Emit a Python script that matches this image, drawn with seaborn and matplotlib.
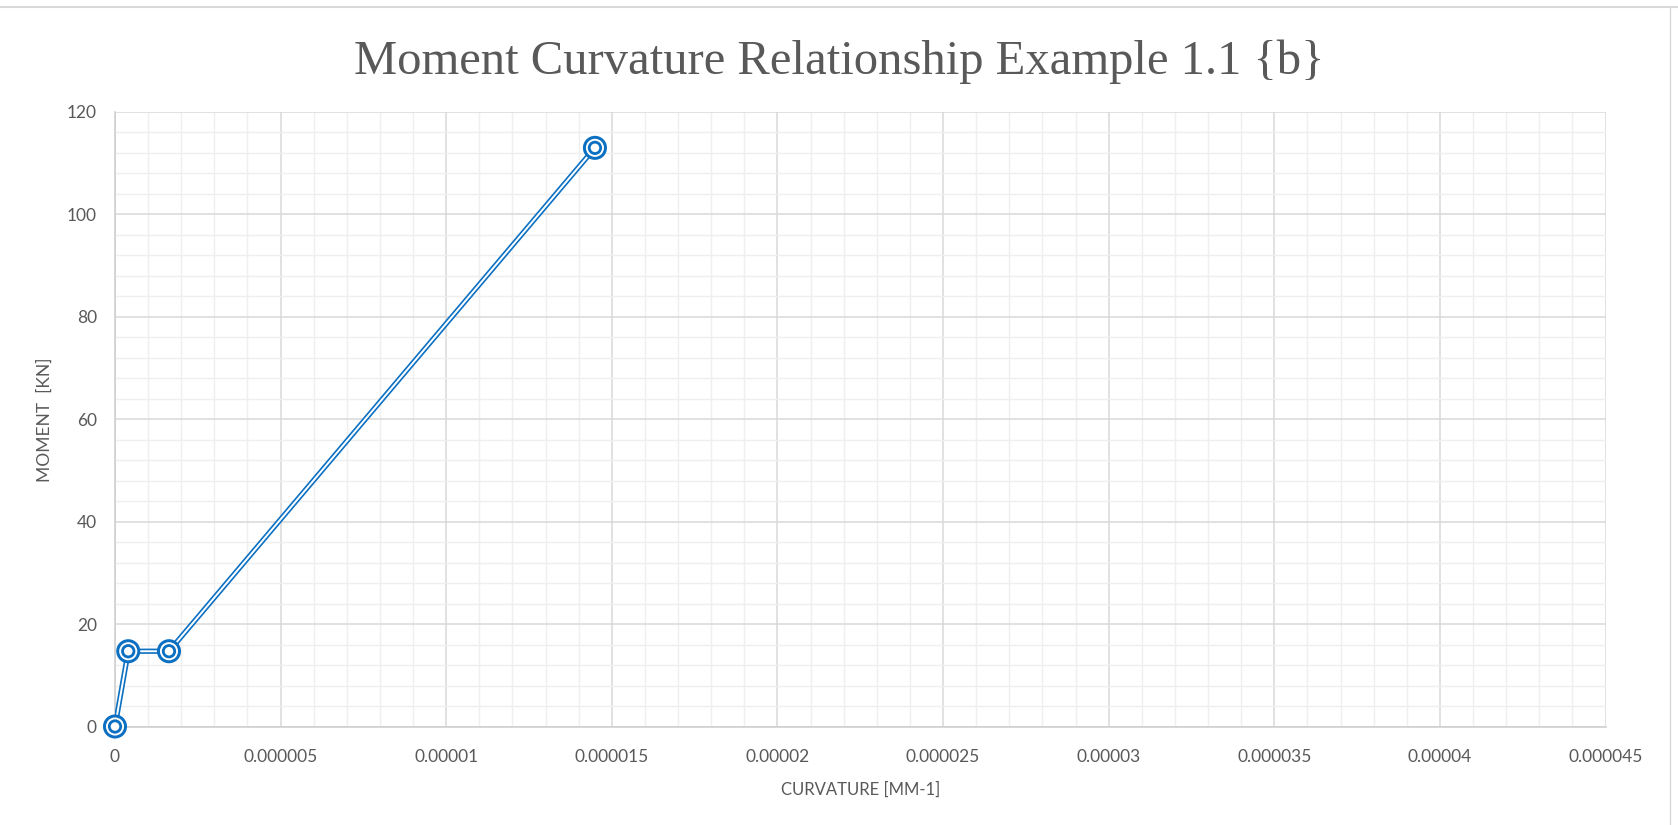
import matplotlib
matplotlib.use("Agg")
import matplotlib.pyplot as plt
from matplotlib.lines import Line2D
from matplotlib.ticker import FixedLocator, MultipleLocator
import seaborn as sns
import pandas as pd

# ---- data ----
curvature = [0.0, 4.0e-7, 1.63e-6, 1.449e-5]
moment = [0.0, 14.7, 14.7, 113.0]
x_ticks = [0, 0.000005, 0.00001, 0.000015, 0.00002, 0.000025, 0.00003, 0.000035, 0.00004, 0.000045]
x_tick_labels = ["0", "0.000005", "0.00001", "0.000015", "0.00002", "0.000025",
                 "0.00003", "0.000035", "0.00004", "0.000045"]
y_ticks = [0, 20, 40, 60, 80, 100, 120]
y_tick_labels = ["0", "20", "40", "60", "80", "100", "120"]
title = "Moment Curvature Relationship Example 1.1 {b}"
x_label = "CURVATURE [MM-1]"
y_label = "MOMENT  [KN]"

df = pd.DataFrame({"curvature": curvature, "moment": moment})

sns.set_theme(style="white")
plt.rcParams["font.family"] = ["Lato", "DejaVu Sans"]

BLUE = "#0B70C2"
TXT = "#595959"

fig = plt.figure(figsize=(16.78, 8.25), dpi=100)
ax = fig.add_axes([115 / 1678, 1 - 726.5 / 825, (1605.5 - 115) / 1678, (726.5 - 112) / 825])

# double line
sns.lineplot(data=df, x="curvature", y="moment", sort=False, color=BLUE, lw=3.8, ax=ax, zorder=3)
sns.lineplot(data=df, x="curvature", y="moment", sort=False, color="white", lw=1.4, ax=ax, zorder=4)
# double-ring markers
for s, c in [(300, BLUE), (170, "white"), (105, BLUE), (38, "white")]:
    sns.scatterplot(data=df, x="curvature", y="moment", s=s, color=c, edgecolor="none",
                    ax=ax, zorder=5, clip_on=False)

ax.set_xlim(0, 0.000045)
ax.set_ylim(0, 120)
ax.xaxis.set_major_locator(FixedLocator(x_ticks))
ax.set_xticklabels(x_tick_labels)
ax.yaxis.set_major_locator(FixedLocator(y_ticks))
ax.set_yticklabels(y_tick_labels)
ax.xaxis.set_minor_locator(MultipleLocator(0.000001))
ax.yaxis.set_minor_locator(MultipleLocator(4))

ax.grid(which="major", color="#D9D9D9", lw=1.1)
ax.grid(which="minor", color="#EFEFEF", lw=1.0)
ax.set_axisbelow(True)

for side in ["top", "right"]:
    ax.spines[side].set_visible(False)
for side in ["left", "bottom"]:
    ax.spines[side].set_color("#D0D0D0")
    ax.spines[side].set_linewidth(1.2)

ax.tick_params(axis="x", which="both", length=0, pad=16, labelsize=12.5, labelcolor=TXT)
ax.tick_params(axis="y", which="both", length=0, pad=13, labelsize=12.5, labelcolor=TXT)

ax.set_xlabel(x_label, fontsize=12, color=TXT)
ax.set_ylabel(y_label, fontsize=12.5, color=TXT)
ax.xaxis.set_label_coords(0.5, (726.5 - 782) / 614.5)
ax.yaxis.set_label_coords((53 - 115) / 1490.5, 0.5)

fig.text(0.5, 1 - 62 / 825, title, ha="center", va="center", fontsize=35,
         color=TXT, family=["Liberation Serif", "DejaVu Serif"])

# chart frame lines
fig.add_artist(Line2D([0, 1], [1 - 7 / 825, 1 - 7 / 825], color="#D9D9D9", lw=1.5))
fig.add_artist(Line2D([1669.5 / 1678, 1669.5 / 1678], [0, 1 - 7 / 825], color="#D9D9D9", lw=1.0))

fig.savefig("out.png", dpi=100, facecolor="white")
